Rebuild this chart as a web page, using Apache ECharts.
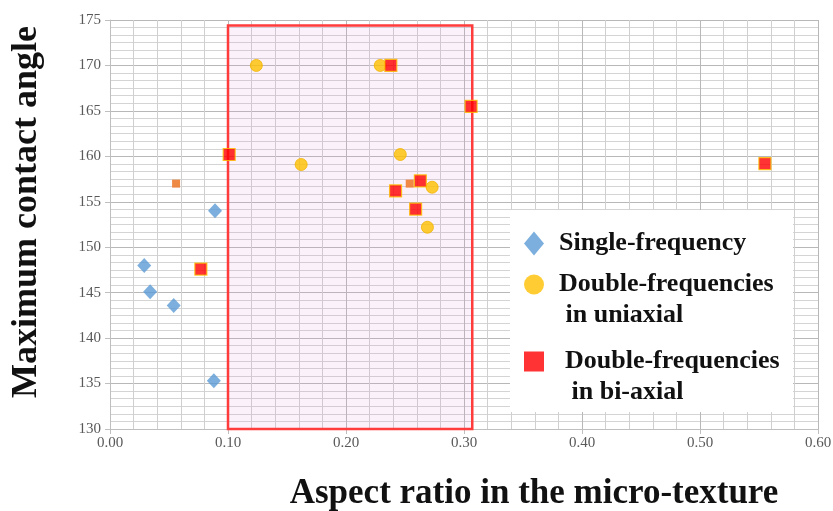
<!DOCTYPE html>
<html>
<head>
<meta charset="utf-8">
<script src="https://cdn.jsdelivr.net/npm/echarts@6/dist/echarts.min.js"></script>
<style>
html,body{margin:0;padding:0;background:#fff;}
#chart{width:833px;height:511px;}
</style>
</head>
<body>
<div id="chart"></div>
<script>
// ---- data ----
const xTicks = ['0.00','0.10','0.20','0.30','0.40','0.50','0.60'];
const yTicks = ['130','135','140','145','150','155','160','165','170','175'];
const singleFrequency = [[0.029,148.0],[0.034,145.1],[0.054,143.6],[0.088,135.3],[0.089,154.0]];
const doubleUniaxial = [[0.124,170.0],[0.229,170.0],[0.162,159.1],[0.246,160.2],[0.273,156.6],[0.269,152.2]];
const extraPoints = [[0.056,157.0],[0.254,157.0]];
const doubleBiaxial = [[0.238,170.0],[0.306,165.5],[0.101,160.2],[0.242,156.2],[0.263,157.3],[0.259,154.2],[0.555,159.2],[0.077,147.6]];
const highlightX = [0.10, 0.307];
const highlightY = [130, 174.4];
const seriesNames = ['Single-frequency','Double-frequencies in uniaxial','Double-frequencies in bi-axial'];

const serif = '"Liberation Serif","Times New Roman",serif';
const chart = echarts.init(document.getElementById('chart'), null, {renderer:'canvas'});

// two-line legend entries: a blank leading line keeps the first line level with the icon
function legendText(name){
  return name.indexOf(' in ') >= 0 ? '\n' + name.replace(' in ', '\n in ') : name;
}
const legendBase = {
  orient:'vertical', selectedMode:false, padding:0, z:10,
  itemWidth:20, itemHeight:20,
  itemStyle:{borderWidth:0},
  formatter: legendText,
  textStyle:{fontFamily:serif, fontWeight:'bold', fontSize:26, color:'#111', lineHeight:31}
};

chart.setOption({
  animation:false,
  backgroundColor:'#fff',
  grid:{left:110, right:15, top:20, bottom:82, containLabel:false, outerBoundsMode:'none'},
  graphic:[{type:'rect', shape:{x:510,y:210,width:283,height:202}, style:{fill:'#fff'}, z:2}],
  legend:[
    Object.assign({}, legendBase, {data:[seriesNames[0]], left:524, top:228, itemHeight:24,
      textStyle:Object.assign({}, legendBase.textStyle, {padding:[0,0,0,10]})}),
    Object.assign({}, legendBase, {data:[seriesNames[1]], left:524, top:238,
      textStyle:Object.assign({}, legendBase.textStyle, {padding:[0,0,0,10]})}),
    Object.assign({}, legendBase, {data:[seriesNames[2]], left:524, top:315,
      textStyle:Object.assign({}, legendBase.textStyle, {padding:[0,0,0,16]})})
  ],
  xAxis:{
    type:'value', min:0, max:0.6, interval:0.1,
    name:'Aspect ratio in the micro-texture', nameLocation:'middle', nameGap:47,
    nameTextStyle:{fontFamily:serif, fontWeight:'bold', fontSize:35, color:'#111', padding:[0,0,0,140]},
    axisLine:{show:true, lineStyle:{color:'#bfbfbf'}},
    axisTick:{show:true, length:5, lineStyle:{color:'#bfbfbf'}},
    minorTick:{show:false, splitNumber:5},
    axisLabel:{margin:7, fontFamily:serif, fontSize:15, color:'#595959',
      formatter:(v)=>xTicks[Math.round(v*10)]},
    splitLine:{show:true, lineStyle:{color:'#b8b8b8', width:1}},
    minorSplitLine:{show:true, lineStyle:{color:'#d0d0d0', width:1}}
  },
  yAxis:{
    type:'value', min:130, max:175, interval:5,
    name:'Maximum contact angle', nameLocation:'middle', nameGap:65,
    nameTextStyle:{fontFamily:serif, fontWeight:'bold', fontSize:36, color:'#111', padding:[0,0,0,25]},
    axisLine:{show:true, lineStyle:{color:'#bfbfbf'}},
    axisTick:{show:true, length:5, lineStyle:{color:'#bfbfbf'}},
    minorTick:{show:false, splitNumber:6},
    axisLabel:{margin:9, fontFamily:serif, fontSize:15, color:'#595959',
      formatter:(v)=>yTicks[Math.round((v-130)/5)]},
    splitLine:{show:true, lineStyle:{color:'#b8b8b8', width:1}},
    minorSplitLine:{show:true, lineStyle:{color:'#d4d4d4', width:1}}
  },
  series:[
    {
      name:seriesNames[0], type:'scatter', data:singleFrequency, symbol:'diamond', symbolSize:[14,15],
      itemStyle:{color:'#5b9bd5'}, z:3,
      markArea:{silent:true, z:1,
        itemStyle:{color:'rgba(225,150,225,0.13)', borderColor:'#ff3b3b', borderWidth:2.5},
        data:[[{xAxis:highlightX[0], yAxis:highlightY[0]},{xAxis:highlightX[1], yAxis:highlightY[1]}]]}
    },
    {
      name:seriesNames[1], type:'scatter', data:doubleUniaxial, symbol:'circle', symbolSize:12,
      itemStyle:{color:'#ffc000', borderColor:'#f0b400', borderWidth:1}, z:3
    },
    {
      name:'extra', type:'scatter', data:extraPoints, symbol:'rect', symbolSize:8,
      itemStyle:{color:'#ed7d31', opacity:0.9}, z:3
    },
    {
      name:seriesNames[2], type:'scatter', data:doubleBiaxial, symbol:'rect', symbolSize:12,
      itemStyle:{color:'#ff0000', borderColor:'#ffc000', borderWidth:1.2}, z:4
    }
  ]
});
</script>
</body>
</html>
